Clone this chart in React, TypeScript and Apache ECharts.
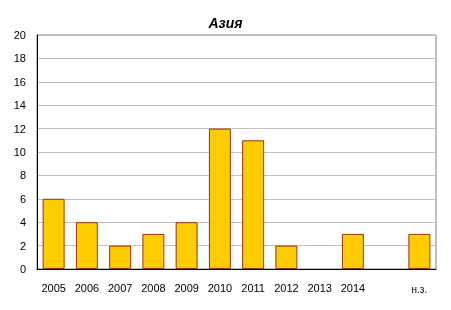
import React, { useEffect, useRef } from "react";
import * as echarts from "echarts";

const categories = ["2005", "2006", "2007", "2008", "2009", "2010", "2011", "2012", "2013", "2014", "", "н.з."];
const values: (number | null)[] = [6, 4, 2, 3, 4, 12, 11, 2, 0, 3, null, 3];
const title = "Азия";

export default function App() {
  const ref = useRef<HTMLDivElement>(null);
  useEffect(() => {
    const chart = echarts.init(ref.current!, null, { renderer: "svg" });
    chart.setOption({
      animation: false,
      title: {
        text: title,
        left: "center",
        top: 11,
        textStyle: { fontFamily: "Liberation Sans, Arial", fontSize: 14, fontWeight: "bold", fontStyle: "italic", color: "#000" },
      },
      grid: { left: 37, right: 15, top: 35, bottom: 41, show: true, borderColor: "#808080", borderWidth: 1, backgroundColor: "#fff" },
      xAxis: {
        type: "category",
        data: categories,
        axisLine: { lineStyle: { color: "#000", width: 1 } },
        axisTick: { show: false },
        axisLabel: {
          margin: 13,
          interval: 0,
          fontFamily: "Liberation Sans, Arial",
          fontSize: 11,
          color: "#000",
          formatter: (v: string) => (v === "н.з." ? "{s|" + v + "}" : v),
          rich: { s: { fontSize: 10, fontFamily: "Liberation Sans, Arial", color: "#000", padding: [2, 0, 0, 0] } },
        },
      },
      yAxis: {
        type: "value",
        min: 0,
        max: 20,
        interval: 2,
        axisLine: { show: true, lineStyle: { color: "#000", width: 1 } },
        axisTick: { show: false },
        splitLine: { lineStyle: { color: "#c0c0c0", width: 1 } },
        axisLabel: { margin: 11, fontFamily: "Liberation Sans, Arial", fontSize: 11, color: "#000" },
      },
      series: [
        {
          type: "bar",
          data: values.map((v) => (v === 0 ? { value: v, itemStyle: { borderWidth: 0 } } : v)),
          barWidth: "66%",
          itemStyle: { color: "#ffcc00", borderColor: "#993300", borderWidth: 1 },
        },
      ],
    });
    return () => chart.dispose();
  }, []);
  return <div ref={ref} style={{ position: "fixed", left: 0, top: 0, width: 451, height: 310 }} />;
}
